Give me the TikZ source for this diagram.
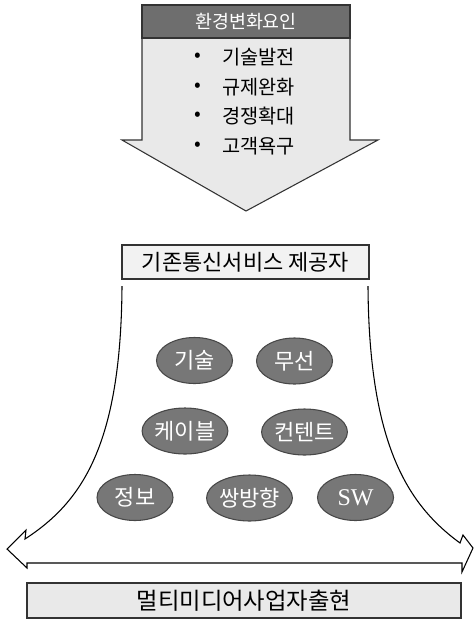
\documentclass[tikz,border=0pt]{standalone}
\usepackage{fontspec}
\newfontfamily\kr{Noto Sans CJK KR}
\newfontfamily\lat{Liberation Serif}
\usetikzlibrary{shapes.geometric}
\definecolor{lightfill}{HTML}{E9E9E9}
\definecolor{darkfill}{HTML}{6E6E6E}
\definecolor{ellfill}{HTML}{777777}
\definecolor{ellline}{HTML}{474747}
\begin{document}
\begin{tikzpicture}[x=0.75pt,y=-0.75pt,line width=0.8pt,
  boxstyle/.style={draw=black!80,fill=lightfill,rectangle,inner sep=0pt,font=\kr\fontsize{16.5pt}{18pt}\selectfont},
  headstyle/.style={draw=black!80,fill=darkfill,rectangle,inner sep=0pt,text=white,font=\kr\fontsize{13.8pt}{16pt}\selectfont},
  itemstyle/.style={anchor=west,inner sep=0pt,font=\kr\fontsize{14.8pt}{16pt}\selectfont},
  ell/.style={ellipse,draw=ellline,line width=0.8pt,fill=ellfill,text=white,minimum width=76*0.75pt,minimum height=46*0.75pt,inner sep=0pt,font=\kr\fontsize{16.5pt}{18pt}\selectfont}]
\useasboundingbox (0,0) rectangle (474,622);
% top arrow
\draw[fill=lightfill,draw=black!80] (142,5) -- (142,140) -- (122,140) -- (246,211) -- (378,140) -- (350,140) -- (350,5) -- cycle;
\node[headstyle,minimum width=208*0.75pt,minimum height=33*0.75pt] (head) at (246,21.5) {환경변화요인};
\node[itemstyle] (b1) at (194,57) {•};
\node[itemstyle] (i1) at (222,57) {기술발전};
\node[itemstyle] (b2) at (194,87) {•};
\node[itemstyle] (i2) at (222,87) {규제완화};
\node[itemstyle] (b3) at (194,116) {•};
\node[itemstyle] (i3) at (222,116) {경쟁확대};
\node[itemstyle] (b4) at (194,146) {•};
\node[itemstyle] (i4) at (222,146) {고객욕구};
% middle box
\node[boxstyle,fill=lightfill!60,minimum width=247*0.75pt,minimum height=34*0.75pt] (mid) at (245.5,262) {기존통신서비스 제공자};
% flare shape
\draw[black] (122,286) .. controls (121,445) and (82,502) .. (25,539) -- (26,530) -- (7,549) -- (27,568) -- (27,563) -- (462,563) -- (462,572) -- (473,548) -- (463,535) -- (460,543) .. controls (408,505) and (369,445) .. (368,286);
% ellipses
\node[ell] (e1) at (194.5,360.5) {기술};
\node[ell] (e2) at (294.5,361) {무선};
\node[ell] (e3) at (185,431) {케이블};
\node[ell] (e4) at (304.5,432) {컨텐트};
\node[ell] (e5) at (135,497.5) {정보};
\node[ell] (e6) at (249.5,498) {쌍방향};
\node[ell,font=\lat\fontsize{18pt}{19pt}\selectfont] (e7) at (355.5,497.5) {SW};
% bottom box
\node[boxstyle,minimum width=434*0.75pt,minimum height=35*0.75pt,font=\kr\fontsize{17.5pt}{19pt}\selectfont] (bot) at (244,600.5) {멀티미디어사업자출현};
\end{tikzpicture}
\end{document}
